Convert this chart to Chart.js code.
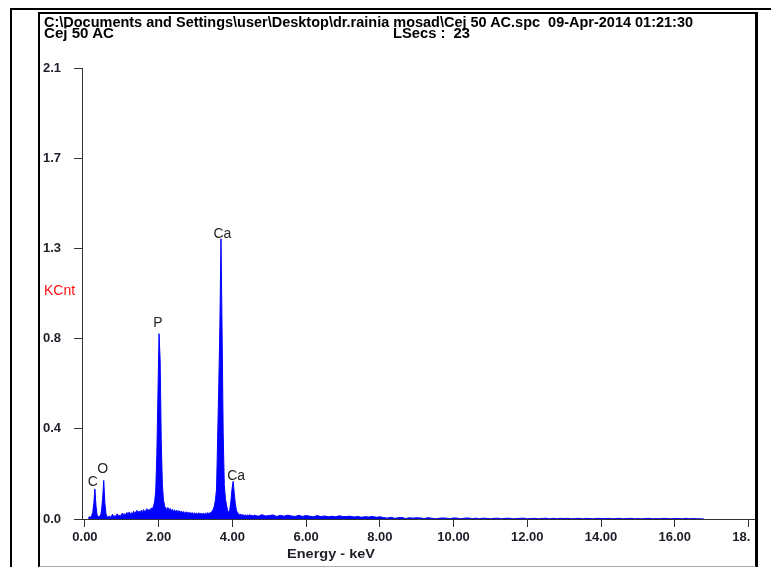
<!DOCTYPE html>
<html>
<head>
<meta charset="utf-8">
<script src="https://cdn.jsdelivr.net/npm/chart.js@4.4.1/dist/chart.umd.min.js"></script>
<style>
  html, body { margin: 0; padding: 0; background: #fff; }
  #wrap { position: relative; width: 771px; height: 567px; overflow: hidden; }
  #chart { position: absolute; left: 0; top: 0; }
  .line { position: absolute; background: #000; z-index: 2; }
  #box { position: absolute; left: 38px; top: 12px; width: 720px; height: 556px; box-sizing: border-box;
         border-left: 2px solid #000; border-top: 2px solid #000; border-right: 3px solid #000;
         border-bottom: 2px solid #aaa; z-index: 2; }
  #mask { position: absolute; left: 758px; top: 0; width: 13px; height: 567px; background: #fff; z-index: 1; }
  #mask2 { position: absolute; left: 750px; top: 529px; width: 6px; height: 18px; background: #fff; z-index: 1; }
  .hdr { position: absolute; font: bold 14px "Liberation Sans Narrow", "Liberation Sans", Arial, sans-serif;
         line-height: 14px; white-space: pre; color: #000; transform-origin: 0 0; z-index: 3; }
  #kcnt { position: absolute; left: 44px; top: 282px; font: 14px "Liberation Sans", Arial, sans-serif;
          line-height: 16px; color: #ff1010; z-index: 3; }
  #xtitle { position: absolute; left: 287px; top: 546px; font: bold 13px "Liberation Sans", Arial, sans-serif;
            line-height: 16px; color: #1e1e28; white-space: pre; transform-origin: 0 0; z-index: 3; }
</style>
</head>
<body>
<div id="wrap">
  <canvas id="chart" width="771" height="567"></canvas>
  <div id="mask"></div>
  <div id="mask2"></div>
  <div class="line" style="left:10px;top:8px;width:761px;height:2px"></div>
  <div class="line" style="left:10px;top:8px;width:2px;height:559px"></div>
  <div id="box"></div>
  <div class="hdr fit" data-w="649" style="left:44px;top:15px">C:\Documents and Settings\user\Desktop\dr.rainia mosad\Cej 50 AC.spc  09-Apr-2014 01:21:30</div>
  <div class="hdr fit" data-w="70" style="left:44px;top:26px">Cej 50 AC</div>
  <div class="hdr fit" data-w="77" style="left:393px;top:26px">LSecs :  23</div>
  <div id="kcnt">KCnt</div>
  <div id="xtitle" class="fit" data-w="88">Energy - keV</div>
</div>
<script>
// spectrum channels, low energy part (keV start / channel width)
const lowStart = 0.09;
const lowStep = 0.03;
const lowCounts = [
  0.006, 0.010, 0.008, 0.016, 0.030, 0.070, 0.140, 0.060, 0.018, 0.010,
  0.014, 0.012, 0.040, 0.095, 0.180, 0.075, 0.025, 0.010, 0.008, 0.014,
  0.009, 0.014, 0.022, 0.010, 0.016, 0.011, 0.024, 0.013, 0.019, 0.012,
  0.022, 0.028, 0.016, 0.025, 0.019, 0.030, 0.020, 0.033, 0.022, 0.029,
  0.024, 0.036, 0.026, 0.033, 0.040, 0.028, 0.037, 0.029, 0.041, 0.031,
  0.044, 0.033, 0.040, 0.048, 0.035, 0.045, 0.038, 0.052, 0.046, 0.060,
  0.080, 0.130, 0.300, 0.580, 0.863, 0.740, 0.360, 0.160, 0.090, 0.060,
  0.052, 0.044, 0.054, 0.038, 0.049, 0.036, 0.046, 0.034, 0.043, 0.033,
  0.041, 0.031, 0.039, 0.029, 0.037, 0.028, 0.035, 0.026, 0.034, 0.027,
  0.033, 0.025, 0.031, 0.023, 0.030, 0.022, 0.029, 0.024, 0.028, 0.021,
  0.029, 0.022, 0.027, 0.021, 0.028, 0.022, 0.027, 0.023, 0.030, 0.025,
  0.028, 0.030, 0.036, 0.045, 0.060, 0.090, 0.140, 0.380, 0.620, 0.900,
  1.305, 0.880, 0.400, 0.160, 0.095, 0.065, 0.040, 0.030, 0.045, 0.085,
  0.140, 0.175, 0.120, 0.070, 0.040, 0.028, 0.024, 0.018, 0.023, 0.016,
  0.021, 0.015, 0.020, 0.014, 0.019, 0.015, 0.021, 0.014, 0.018, 0.013,
  0.017
];

// high energy tail, coarser channels
const highStart = 4.6;
const highStep = 0.1;
const highCounts = [
  0.018, 0.013, 0.020, 0.014, 0.016, 0.019, 0.012, 0.017, 0.013, 0.018, 0.014, 0.012, 0.017, 0.012, 0.016,
  0.013, 0.010, 0.016, 0.011, 0.014, 0.010, 0.013, 0.010, 0.015, 0.011,
  0.012, 0.013, 0.009, 0.012, 0.008, 0.011, 0.009, 0.012, 0.008, 0.010,
  0.007, 0.004, 0.008, 0.003, 0.006, 0.007, 0.002, 0.006, 0.004, 0.006,
  0.005, 0.002, 0.006, 0.004, 0.001, 0.003, 0.005, 0.004, 0.001, 0.005,
  0.004, 0.001, 0.004, 0.005, 0.001, 0.004, 0.001, 0.004, 0.003, 0.001,
  0.003, 0.004, 0.001, 0.003, 0.004, 0.001, 0.002, 0.003, 0.004, 0.001,
  0.002, 0.003, 0.001, 0.002, 0.004, 0.001, 0.003, 0.001, 0.003, 0.002,
  0.003, 0.001, 0.002, 0.003, 0.001, 0.003, 0.002, 0.001, 0.003, 0.002,
  0.002, 0.003, 0.001, 0.002, 0.003, 0.001, 0.002, 0.003, 0.001, 0.002,
  0.001, 0.002, 0.003, 0.001, 0.002, 0.001, 0.003, 0.002, 0.001, 0.002,
  0.002, 0.001, 0.003, 0.001, 0.002, 0.001, 0.001, 0.000
];

// axis ticks
const energyTicks = [0, 2, 4, 6, 8, 10, 12, 14, 16, 18];
const countTicks = [0, 0.42, 0.84, 1.26, 1.68, 2.1];

// element markers: name, label position (keV, KCnt)
const peakNames = ['C', 'O', 'P', 'Ca', 'Ca'];
const peakEnergy = [0.21, 0.48, 1.98, 3.73, 4.10];
const peakLabelY = [0.17, 0.23, 0.91, 1.326, 0.20];

const points = [];
lowCounts.forEach((c, i) => points.push({ x: lowStart + i * lowStep, y: c }));
highCounts.forEach((c, i) => points.push({ x: highStart + i * highStep, y: c }));

const tickFont = { family: '"Liberation Sans", Arial, sans-serif', size: 13, weight: 'bold' };
const axisColor = '#333';

// draws the element names above the peaks
const peakLabels = {
  id: 'peakLabels',
  afterDatasetsDraw(chart) {
    const { ctx, scales: { x, y } } = chart;
    ctx.save();
    ctx.font = '14px "Liberation Sans", Arial, sans-serif';
    ctx.fillStyle = '#262626';
    ctx.textAlign = 'center';
    ctx.textBaseline = 'middle';
    peakNames.forEach((n, i) => {
      ctx.fillText(n, x.getPixelForValue(peakEnergy[i]), y.getPixelForValue(peakLabelY[i]));
    });
    ctx.restore();
  }
};

new Chart(document.getElementById('chart'), {
  type: 'line',
  data: {
    datasets: [{
      data: points,
      borderColor: '#0000ff',
      backgroundColor: '#0000ff',
      borderWidth: 1,
      pointRadius: 0,
      fill: 'origin',
      tension: 0
    }]
  },
  options: {
    responsive: false,
    animation: false,
    layout: { padding: { left: 43, top: 68, right: 17, bottom: 18 } },
    plugins: { legend: { display: false }, tooltip: { enabled: false } },
    scales: {
      x: {
        type: 'linear',
        min: -0.08,
        max: 18.15,
        z: 1,
        afterBuildTicks: (s) => { s.ticks = energyTicks.map(v => ({ value: v })); },
        afterFit: (s) => { s.height = 30; },
        grid: { drawOnChartArea: false, drawTicks: true, tickLength: 8, color: axisColor },
        border: { color: axisColor },
        ticks: { font: tickFont, color: '#1e1e28', padding: 3, maxRotation: 0,
                 callback: (v) => v.toFixed(2) }
      },
      y: {
        min: 0,
        max: 2.1,
        afterBuildTicks: (s) => { s.ticks = countTicks.map(v => ({ value: v })); },
        afterFit: (s) => { s.width = 39; },
        grid: { drawOnChartArea: false, drawTicks: true, tickLength: 8, color: axisColor },
        border: { color: axisColor },
        ticks: { font: tickFont, color: '#1e1e28', crossAlign: 'far', padding: 4,
                 callback: (v) => v.toFixed(1) }
      }
    }
  },
  plugins: [peakLabels]
});

// squeeze the header texts to the widths seen in the original
document.fonts.ready.then(() => {
  document.querySelectorAll('.fit').forEach(el => {
    const w = el.getBoundingClientRect().width;
    el.style.transform = 'scaleX(' + (el.dataset.w / w) + ')';
  });
});
</script>
</body>
</html>
